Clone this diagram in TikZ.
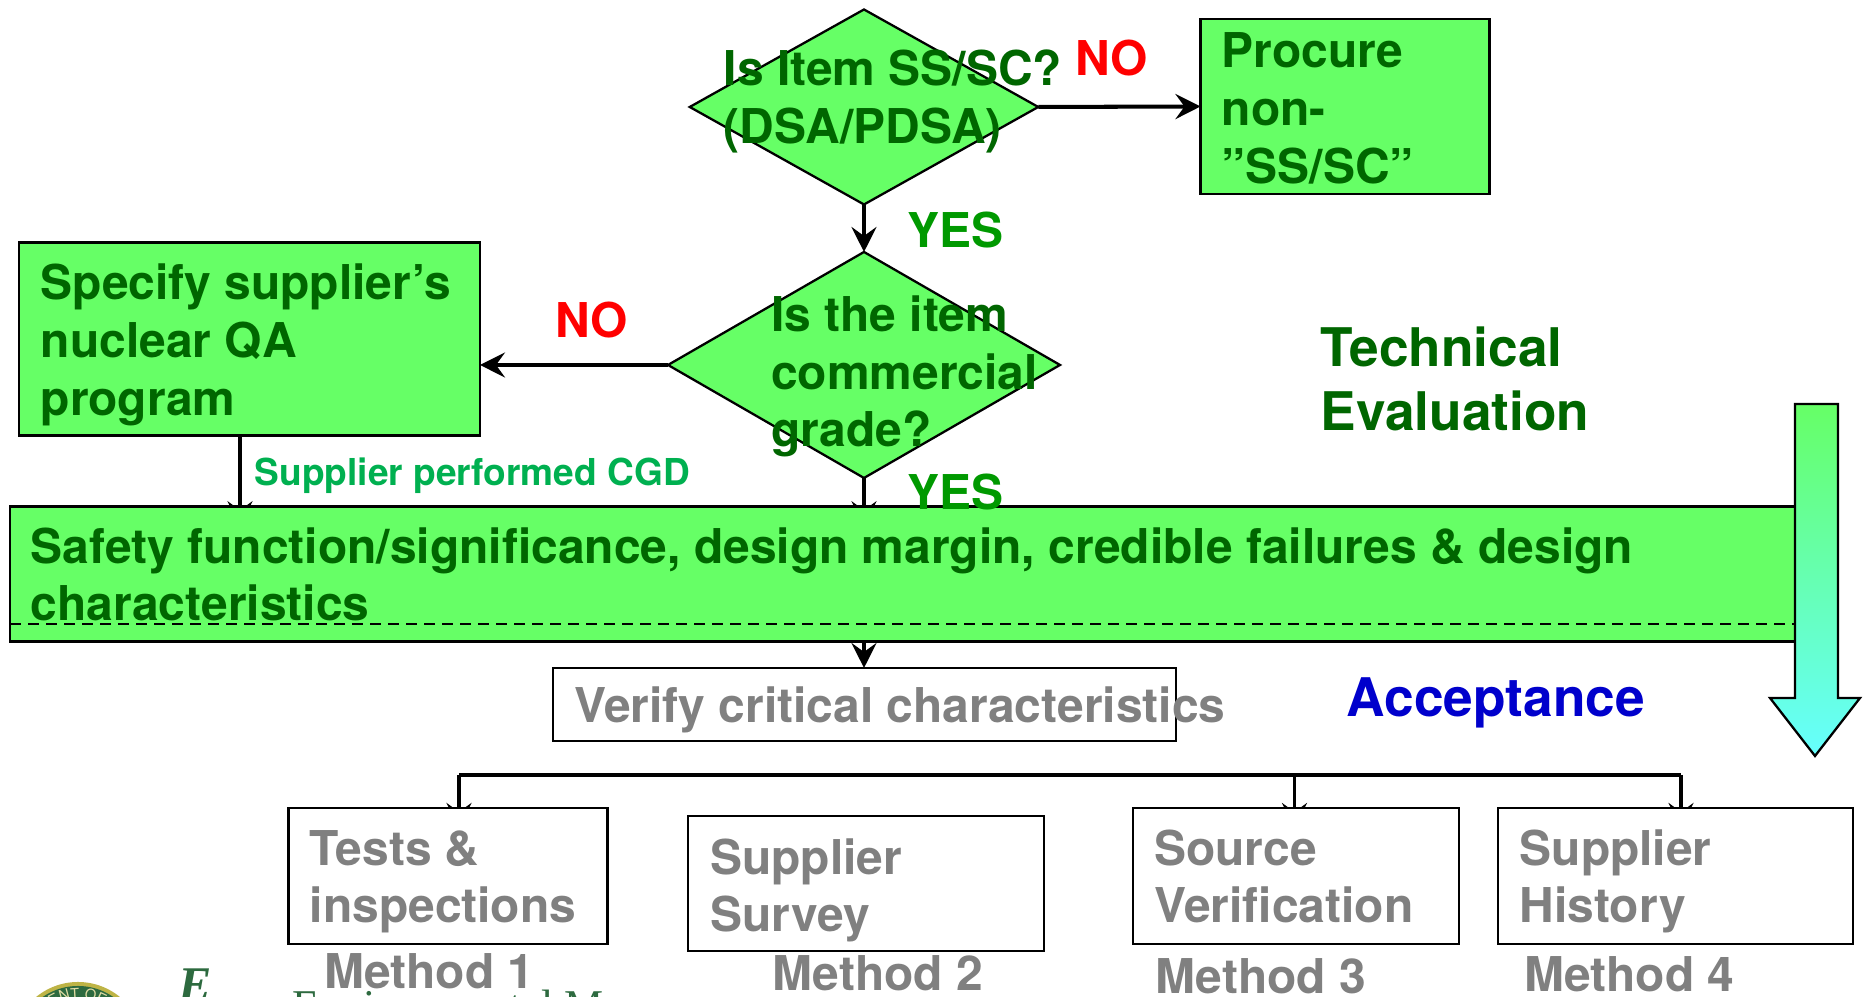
\documentclass[tikz,border=0pt]{standalone}
\usepackage{fontspec}
\setmainfont{TeX Gyre Heros}
\newfontfamily\logofont{Liberation Serif}
\usetikzlibrary{arrows.meta,shapes.geometric,backgrounds,decorations.text}
\definecolor{qagreen}{RGB}{102,255,102}
\definecolor{qacyan}{RGB}{102,255,255}
\definecolor{qadark}{RGB}{0,102,0}
\definecolor{qayes}{RGB}{0,153,0}
\definecolor{qacgd}{RGB}{0,176,80}
\definecolor{qagray}{RGB}{128,128,128}
\definecolor{qablue}{RGB}{0,0,204}
\definecolor{qalogo}{RGB}{45,106,63}
\definecolor{qagold}{RGB}{190,180,70}
\tikzset{
  qabox/.style={draw=black, line width=0.8pt, outer sep=0pt, inner sep=0pt},
  greenbox/.style={qabox, fill=qagreen},
  whitebox/.style={qabox, fill=white},
  decision/.style={diamond, draw=black, line width=0.65pt, fill=qagreen, outer sep=0pt, inner sep=0pt},
  txt/.style={anchor=base west, align=left, inner sep=0pt, font=\bfseries\fontsize{13.65}{16.4}\selectfont},
  bigtxt/.style={txt, font=\bfseries\fontsize{15.15}{18}\selectfont},
  conn/.style={line width=1pt, -{Stealth[length=0.25cm, width=0.25cm, inset=0.09cm]}},
  hidetip/.style={shorten >=-0.2cm}
}
\begin{document}
\begin{tikzpicture}
\useasboundingbox (0,0) rectangle (18.64,9.97);
% Decisions and green boxes
\node[decision, minimum width=3.485cm, minimum height=1.95cm] (dssc) at (8.64,8.90) {};
\node[decision, minimum width=3.92cm, minimum height=2.26cm] (dcommercial) at (8.64,6.32) {};
\node[greenbox, minimum width=2.89cm, minimum height=1.75cm] (procure) at (13.45,8.905) {};
\node[greenbox, minimum width=4.61cm, minimum height=1.925cm] (specify) at (2.495,6.58) {};
\node[greenbox, minimum width=17.9cm, minimum height=1.355cm] (safety) at (9.05,4.23) {};
% Acceptance boxes
\node[whitebox, minimum width=6.23cm, minimum height=0.73cm] (verify) at (8.645,2.925) {};
\node[whitebox, minimum width=3.195cm, minimum height=1.36cm] (tests) at (4.48,1.21) {};
\node[whitebox, minimum width=3.56cm, minimum height=1.35cm] (survey) at (8.66,1.135) {};
\node[whitebox, minimum width=3.26cm, minimum height=1.36cm] (source) at (12.96,1.21) {};
\node[whitebox, minimum width=3.55cm, minimum height=1.36cm] (history) at (16.755,1.21) {};
% Dashed line across the band
\coordinate (dashl) at (0.10,3.73);
\coordinate (dashr) at (17.95,3.73);
\draw[line width=0.5pt, dash pattern=on 1.1mm off 0.7mm] (dashl) -- (dashr);
% Connectors, tips behind the boxes
\coordinate (busl) at (4.59,2.22);
\coordinate (busm) at (12.945,2.22);
\coordinate (busr) at (16.81,2.22);
\coordinate (stem) at (2.40,5);
\begin{scope}[on background layer]
\draw[conn, line width=1.15pt] (dssc.east) -- (procure.west);
\draw[conn] (dssc.south) -- (dcommercial.north);
\draw[conn] (dcommercial.west) -- (dcommercial.west -| specify.east);
\draw[conn, hidetip] (specify.south -| stem) -- (safety.north -| stem);
\draw[conn, hidetip] (dcommercial.south) -- (dcommercial.south |- safety.north);
\draw[conn, shorten <=-0.1cm] (dcommercial.south |- safety.south) -- (dcommercial.south |- verify.north);
\draw[line width=1.15pt] (busl) -- (busr);
\draw[conn, hidetip, line width=1.15pt] (busl) -- (busl |- tests.north);
\draw[conn, hidetip] (busm) -- (busm |- source.north);
\draw[conn, hidetip, line width=1.15pt] (busr) -- (busr |- history.north);
\end{scope}
% Texts
\node[txt, text=qadark] (tssc) at (7.23,9.115) {Is Item SS/SC?};
\node[txt, text=qadark] (tdsa) at (7.23,8.53) {(DSA/PDSA)};
\node[txt, text=red] (nossc) at (10.75,9.21) {NO};
\node[txt, text=qadark] (tprocure) at (12.21,9.29) {Procure};
\node[txt, text=qadark] (tnon) at (12.21,8.71) {non-};
\node[txt, text=qadark] (tquote) at (12.21,8.13) {”SS/SC”};
\node[txt, text=qayes] (yesssc) at (9.07,7.49) {YES};
\node[txt, text=qadark] (tspec) at (0.40,6.97) {Specify supplier’s};
\node[txt, text=qadark] (tnuc) at (0.40,6.39) {nuclear QA};
\node[txt, text=qadark] (tprog) at (0.40,5.81) {program};
\node[txt, text=red] (nocomm) at (5.55,6.59) {NO};
\node[txt, text=qadark] (titem) at (7.705,6.655) {Is the item};
\node[txt, text=qadark] (tcomm) at (7.705,6.075) {commercial};
\node[txt, text=qadark] (tgrade) at (7.705,5.50) {grade?};
\node[bigtxt, text=qadark] (ttech) at (13.20,6.30) {Technical};
\node[bigtxt, text=qadark] (teval) at (13.20,5.66) {Evaluation};
\node[txt, text=qacgd, font=\bfseries\fontsize{10.55}{13}\selectfont] (tcgd) at (2.54,5.11) {Supplier performed CGD};
\node[txt, text=qayes] (yescomm) at (9.07,4.87) {YES};
\node[txt, text=qadark] (tsafe) at (0.30,4.33) {Safety function/significance, design margin, credible failures \& design};
\node[txt, text=qadark] (tchar) at (0.30,3.76) {characteristics};
\node[txt, text=qagray] (tverify) at (5.735,2.74) {Verify critical characteristics};
\node[bigtxt, text=qablue] (taccept) at (13.46,2.80) {Acceptance};
\node[txt, text=qagray] (ttests) at (3.09,1.31) {Tests \&};
\node[txt, text=qagray] (tinsp) at (3.09,0.74) {inspections};
\node[txt, text=qagray] (tsup) at (7.095,1.225) {Supplier};
\node[txt, text=qagray] (tsurv) at (7.095,0.655) {Survey};
\node[txt, text=qagray] (tsrc) at (11.535,1.31) {Source};
\node[txt, text=qagray] (tver) at (11.535,0.74) {Verification};
\node[txt, text=qagray] (tsupb) at (15.19,1.31) {Supplier};
\node[txt, text=qagray] (thist) at (15.19,0.74) {History};
% Big arrow
\draw[line width=0.65pt, top color=qagreen, bottom color=qacyan]
  (17.95,5.93) -- (18.38,5.93) -- (18.38,2.99) -- (18.60,2.99) -- (18.15,2.41) -- (17.70,2.99) -- (17.95,2.99) -- cycle;
% Cut-off logo along the bottom edge
\begin{scope}
\clip (0,0) rectangle (18.64,9.97);
\fill[qagold] (0.78,-0.51) circle (0.66);
\fill[qalogo] (0.78,-0.51) circle (0.62);
\path[decorate, decoration={text along path, text align=center,
  text={|\color{qagold!50!white}\fontsize{4.2}{5}\selectfont|MENT OF E}}]
  (0.78,-0.51) ++(130:0.49) arc (130:50:0.49);
\node[txt, text=qalogo, font=\logofont\bfseries\itshape\fontsize{14.2}{16}\selectfont] (tlogoe) at (1.78,-0.05) {E};
\node[txt, text=qalogo, font=\logofont\fontsize{12.5}{15}\selectfont] (tlogo) at (2.92,-0.24) {Environmental M};
\end{scope}
% Methods
\node[txt, text=qagray] (mone) at (3.235,0.085) {Method 1};
\node[txt, text=qagray] (mtwo) at (7.72,0.06) {Method 2};
\node[txt, text=qagray] (mthree) at (11.55,0.03) {Method 3};
\node[txt, text=qagray] (mfour) at (15.235,0.05) {Method 4};
\end{tikzpicture}
\end{document}
